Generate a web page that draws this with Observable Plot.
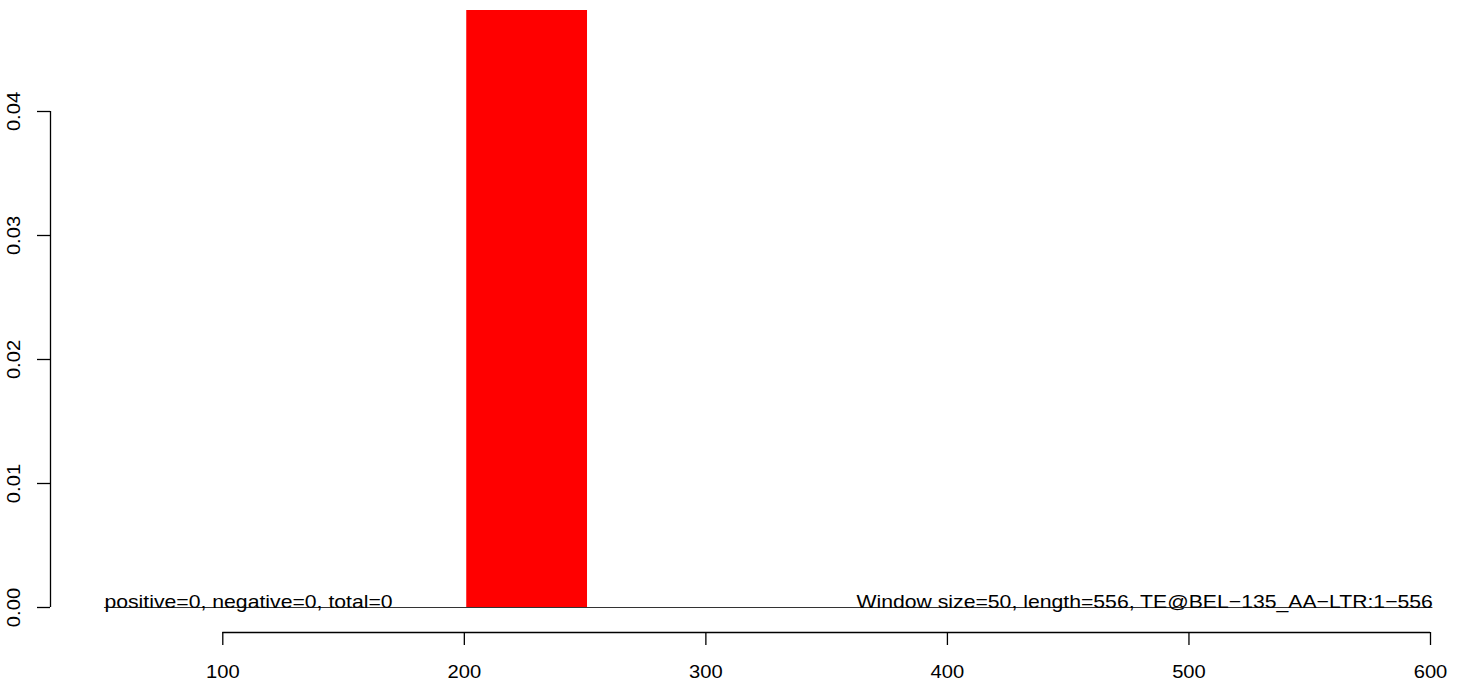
<!DOCTYPE html>
<html>
<head>
<meta charset="utf-8">
<script src="https://cdn.jsdelivr.net/npm/d3@7"></script>
<script src="https://cdn.jsdelivr.net/npm/@observablehq/plot@0.6"></script>
<style>
  html, body { margin: 0; padding: 0; background: #fff; }
  svg { display: block; }
</style>
</head>
<body>
<div id="chart"></div>
<script>
// ---- data ----
const barStart = [201];
const barEnd = [251];
const barValue = [0.05];
const baselineRange = [51, 601];
const xTicks = [100, 200, 300, 400, 500, 600];
const yTicks = [0, 0.01, 0.02, 0.03, 0.04];
const leftNote = "positive=0, negative=0, total=0";
const rightNote = "Window size=50, length=556, TE@BEL\u2212135_AA\u2212LTR:1\u2212556";

const bars = barStart.map((s, i) => ({x1: s, x2: barEnd[i], y: barValue[i]}));

const W = 1466, H = 683;
const font = "'Liberation Sans', Arial, Helvetica, sans-serif";
const fs = 18.5;
const xDomain = [28.67, 608.28];
const yDomain = [-0.002016, 0.048145];

const chart = Plot.plot({
  width: W,
  height: H,
  marginLeft: 50,
  marginRight: 16,
  marginTop: 10,
  marginBottom: 51,
  style: {fontFamily: font, fontSize: fs + "px", background: "#fff", color: "#000"},
  x: {domain: xDomain, axis: null},
  y: {domain: yDomain, axis: null},
  marks: [
    Plot.rectY(bars, {x1: "x1", x2: "x2", y1: 0, y2: "y", fill: "#ff0000", clip: true}),
    Plot.ruleY([0], {x1: baselineRange[0], x2: baselineRange[1], stroke: "#333", strokeWidth: 1}),
    Plot.text([leftNote], {x: baselineRange[0], y: 0, text: d => d, textAnchor: "start", lineAnchor: "bottom", fontSize: fs, fill: "#000"}),
    Plot.text([rightNote], {x: baselineRange[1], y: 0, text: d => d, textAnchor: "end", lineAnchor: "bottom", fontSize: fs, fill: "#000"}),
    // x axis (R style: line from first to last tick)
    Plot.ruleY([yDomain[0]], {x1: xTicks[0], x2: xTicks[xTicks.length - 1], stroke: "#000", strokeWidth: 1.3}),
    Plot.axisX({ticks: xTicks, tickSize: 13, tickPadding: 19, tickFormat: d => String(d), label: null, fontSize: fs, stroke: "#000", strokeWidth: 1.3}),
    // y axis
    Plot.ruleX([xDomain[0]], {y1: yTicks[0], y2: yTicks[yTicks.length - 1], stroke: "#000", strokeWidth: 1.3}),
    Plot.axisY({ticks: yTicks, tickSize: 13, tickFormat: () => "", label: null, stroke: "#000", strokeWidth: 1.3}),
    Plot.text(yTicks, {y: d => d, text: d => d.toFixed(2), frameAnchor: "left", dx: -36, rotate: -90, textAnchor: "middle", lineAnchor: "middle", fontSize: fs, fill: "#000"})
  ]
});
document.getElementById("chart").appendChild(chart);

// R's device text is horizontally wider than Liberation Sans at the same height; stretch glyphs to match
const notes = new Set([leftNote, rightNote]);
d3.select(chart).selectAll("text").each(function() {
  const t = this.textContent;
  if (!t) return;
  const len = this.getComputedTextLength();
  const k = notes.has(t) ? 1.146 : 1.09;
  this.setAttribute("textLength", (len * k).toFixed(2));
  this.setAttribute("lengthAdjust", "spacingAndGlyphs");
});
</script>
</body>
</html>
